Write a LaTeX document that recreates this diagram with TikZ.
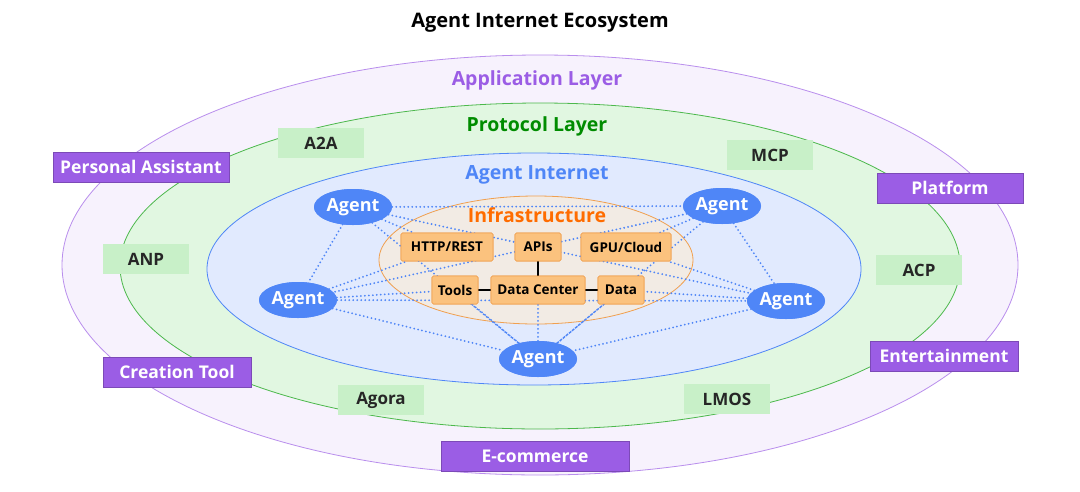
\documentclass[tikz,border=0pt]{standalone}
\usepackage{fontspec}
\setmainfont{Open Sans}
\usetikzlibrary{shapes.geometric}
\begin{document}
\begin{tikzpicture}[x=1pt,y=-1pt,
 lay/.style={font=\bfseries\fontsize{19.5}{19.5}\selectfont},
 pb/.style={fill=pur,draw=pur!80!black,line width=0.5pt,text=white,minimum height=30,font=\bfseries\fontsize{17.5}{17.5}\selectfont,inner sep=0pt},
 gb/.style={fill=grn,text=black!85,minimum height=30,minimum width=86,font=\bfseries\fontsize{17}{17}\selectfont,inner sep=0pt},
 ob/.style={fill=orb,draw=orl,line width=0.6pt,minimum height=28,rounded corners=1.5pt,font=\bfseries\fontsize{13.5}{13.5}\selectfont,inner sep=0pt},
 ag/.style={ellipse,fill=agb,text=white,minimum width=78,minimum height=36,inner sep=0pt,font=\bfseries\fontsize{18}{18}\selectfont},
 dl/.style={draw=agb,line width=2pt,line cap=round,dash pattern=on 0pt off 4pt},
 sl/.style={draw=black,line width=1.8pt}]
\definecolor{pur}{HTML}{9B5DE5}
\definecolor{grn}{HTML}{C8F0C8}
\definecolor{orb}{HTML}{FBC27E}
\definecolor{orl}{HTML}{F0A050}
\definecolor{agb}{HTML}{4F86F7}
\useasboundingbox (0,0) rectangle (1080,491);
\fill[white] (0,0) rectangle (1080,491);
\node[font=\bfseries\fontsize{20}{20}\selectfont] (title) at (540,23) {Agent Internet Ecosystem};
\draw[fill=pur!8,draw=pur!70,line width=0.8pt] (540,265) ellipse [x radius=478,y radius=210];
\node[lay,text=pur] (app) at (537,80) {Application Layer};
\draw[fill=grn!55,draw=green!60!black!70,line width=0.8pt] (540,266) ellipse [x radius=420,y radius=163];
\node[lay,text=green!55!black] (prot) at (537,126) {Protocol Layer};
\draw[fill=agb!17,draw=agb,line width=0.8pt] (534,269) ellipse [x radius=327,y radius=116];
\node[lay,text=agb] (ai) at (537,175) {Agent Internet};
\draw[fill=orb!25!white!90!black!50,draw=orl,line width=0.8pt] (536,260) ellipse [x radius=157,y radius=64];
\node[lay,text=orange!85!red] (inf) at (537,215) {Infrastructure};
\node[ob,minimum width=92] (http) at (447,247) {HTTP/REST};
\node[ob,minimum width=46] (apis) at (538,247) {APIs};
\node[ob,minimum width=90] (gpu) at (626,247) {GPU/Cloud};
\node[ob,minimum width=46] (tools) at (455,290) {Tools};
\node[ob,minimum width=94] (dc) at (538,290) {Data Center};
\node[ob,minimum width=46] (data) at (621,290) {Data};
\node[ag] (a1) at (353,207) {Agent};
\node[ag] (a2) at (722,206) {Agent};
\node[ag] (a3) at (298,300) {Agent};
\node[ag] (a4) at (786,301) {Agent};
\node[ag] (a5) at (538,359) {Agent};
\draw[sl] (apis) -- (dc);
\draw[sl] (tools) -- (dc);
\draw[sl] (dc) -- (data);
\path[dl] (a1) -- (a2) (a1) -- (a3) (a1) -- (a5) (a1) -- (a4) (a1) -- (http) (a1) -- (apis)
 (a2) -- (a4) (a2) -- (a5) (a2) -- (a3) (a2) -- (apis) (a2) -- (gpu)
 (a3) -- (a4) (a3) -- (a5) (a3) -- (tools) (a3) -- (http)
 (a4) -- (a5) (a4) -- (data) (a4) -- (gpu)
 (a5) -- (dc) (a5) -- (data) (a5) -- (tools);
\node[ob,minimum width=92] at (http) {HTTP/REST};
\node[ob,minimum width=46] at (apis) {APIs};
\node[ob,minimum width=90] at (gpu) {GPU/Cloud};
\node[ob,minimum width=46] at (tools) {Tools};
\node[ob,minimum width=94] at (dc) {Data Center};
\node[ob,minimum width=46] at (data) {Data};
\node[ag] at (a1) {Agent};
\node[ag] at (a2) {Agent};
\node[ag] at (a3) {Agent};
\node[ag] at (a4) {Agent};
\node[ag] at (a5) {Agent};
\node[pb,minimum width=176] (pa) at (141,167) {Personal Assistant};
\node[pb,minimum width=146] (pl) at (950,188) {Platform};
\node[pb,minimum width=148] (ct) at (177,372) {Creation Tool};
\node[pb,minimum width=148] (en) at (944,356) {Entertainment};
\node[pb,minimum width=188] (ec) at (535,456) {E-commerce};
\node[gb] (a2a) at (321,143) {A2A};
\node[gb] (mcp) at (770,155) {MCP};
\node[gb] (anp) at (146,259) {ANP};
\node[gb] (acp) at (919,270) {ACP};
\node[gb] (ago) at (381,400) {Agora};
\node[gb] (lmos) at (727,399) {LMOS};
\end{tikzpicture}
\end{document}
